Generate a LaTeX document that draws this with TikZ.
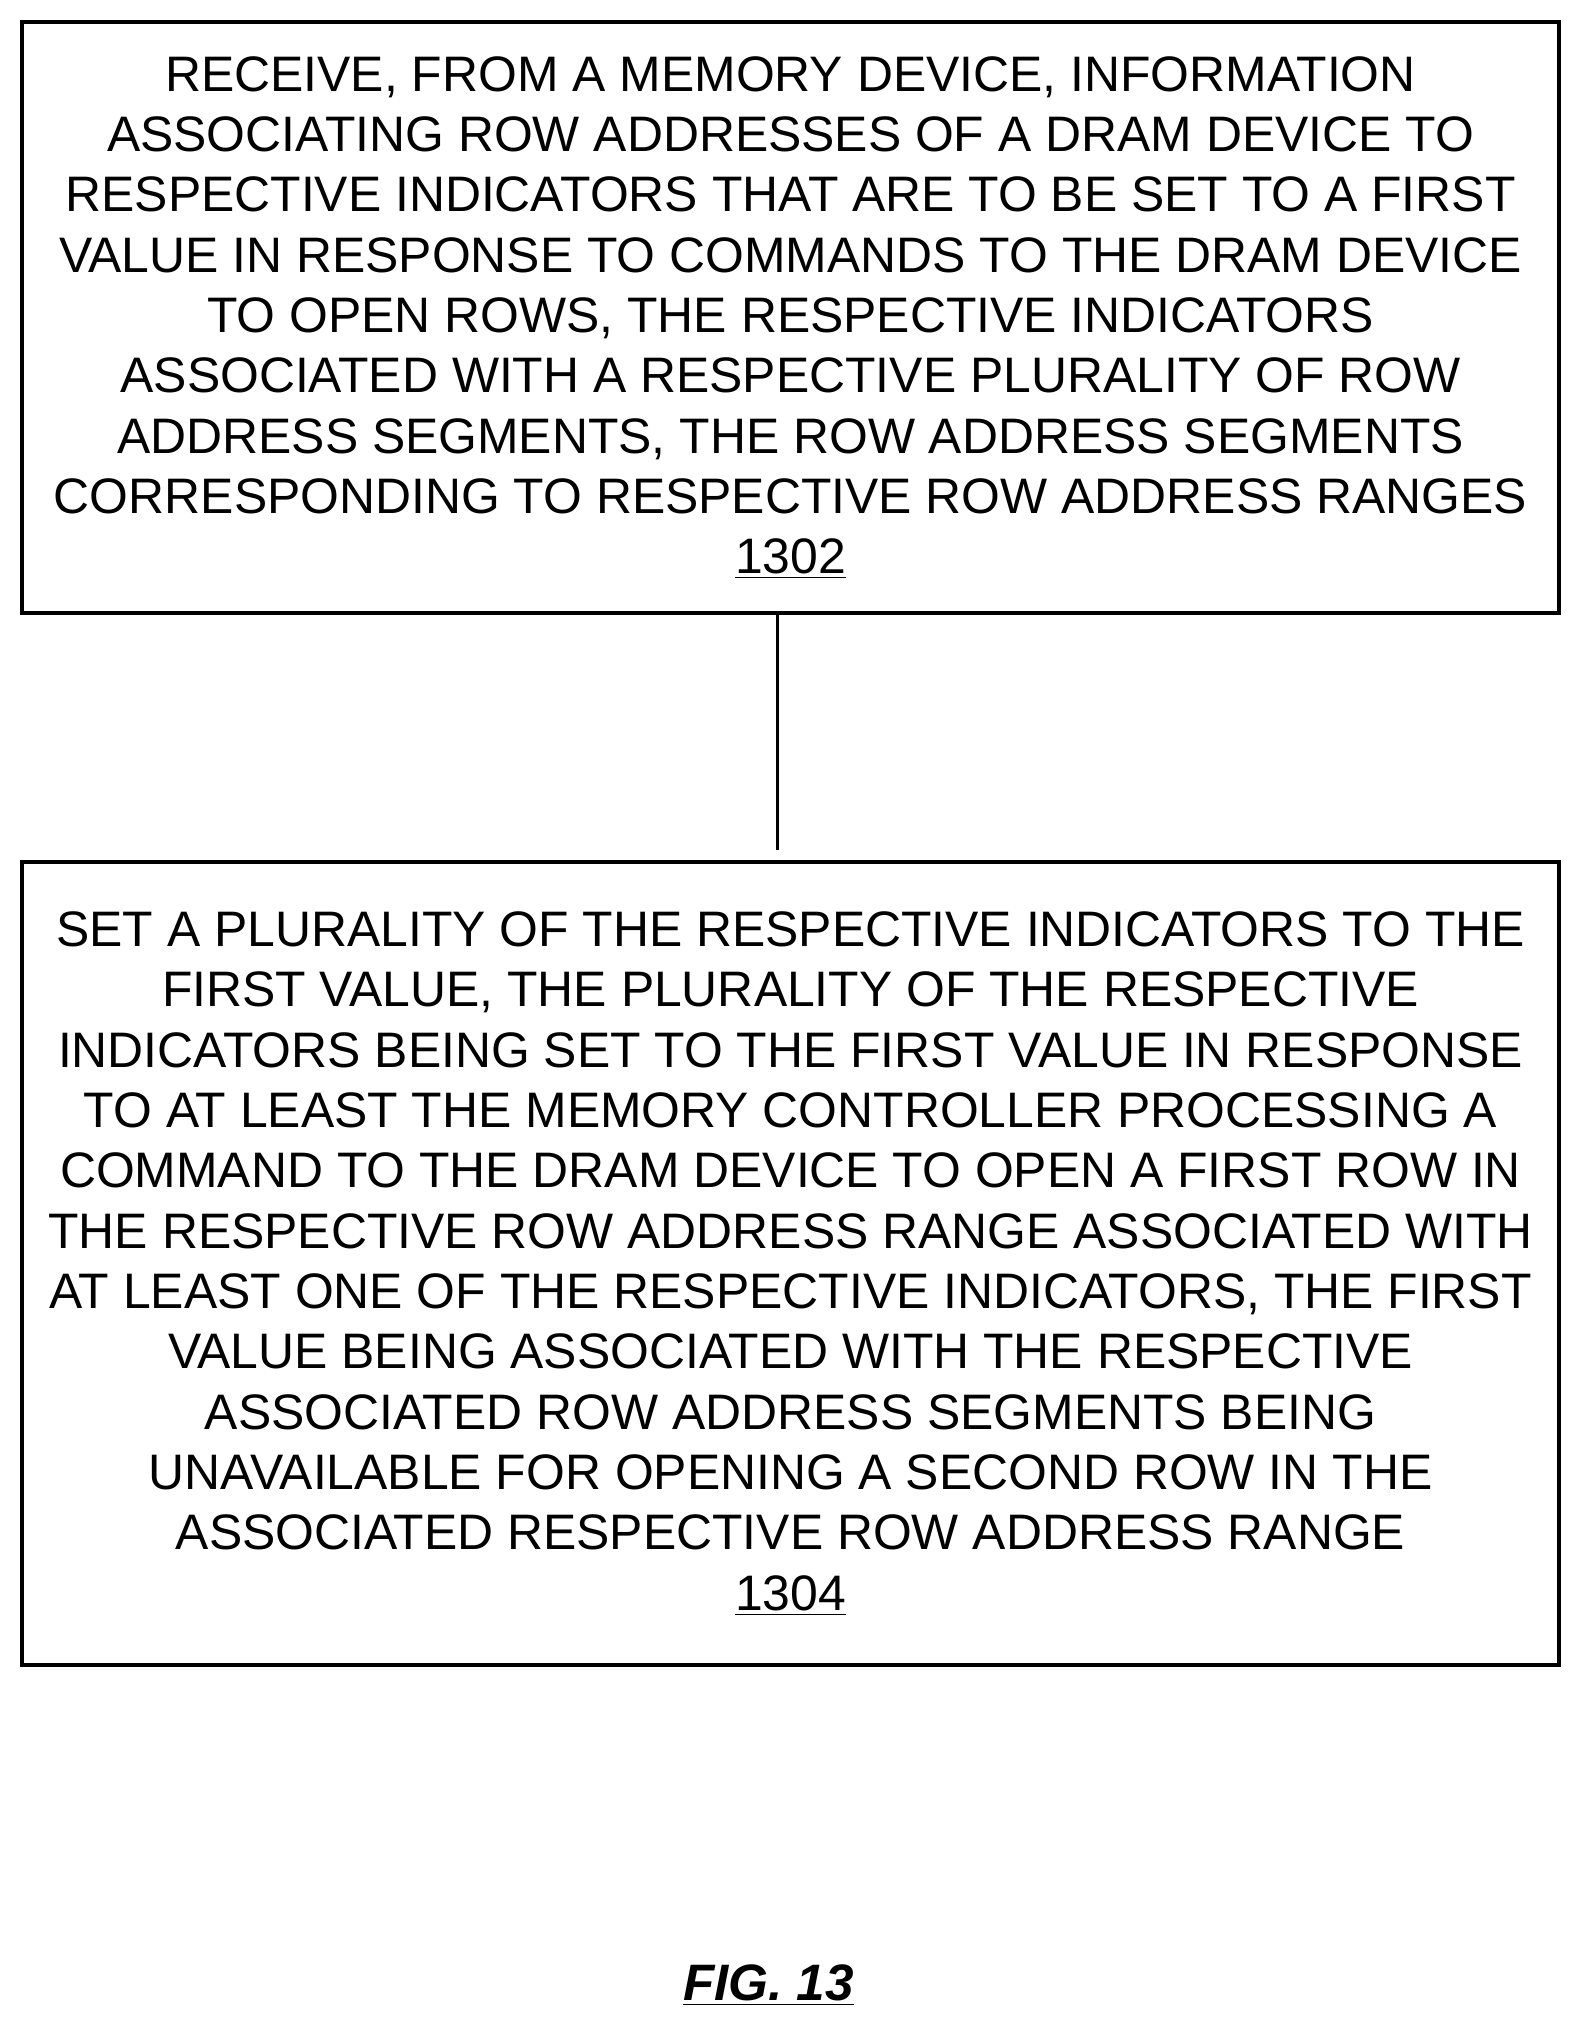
\documentclass[tikz,border=0pt]{standalone}
\usepackage{fontspec}
\setmainfont{Liberation Sans}
\usetikzlibrary{positioning}

\tikzset{stepbox/.style={draw,line width=1.5pt,minimum width=23.72cm,align=center,
    font=\fontsize{21.9}{26.5}\selectfont,inner sep=0pt}}

\begin{document}
\begin{tikzpicture}[x=0.02cm,y=-0.02cm]
  \useasboundingbox (0,0) rectangle (1220,1568);

  \node[stepbox,minimum height=9.12cm] (s1302) at (610,245) {RECEIVE, FROM A MEMORY DEVICE, INFORMATION\\
ASSOCIATING ROW ADDRESSES OF A DRAM DEVICE TO\\
RESPECTIVE INDICATORS THAT ARE TO BE SET TO A FIRST\\
VALUE IN RESPONSE TO COMMANDS TO THE DRAM DEVICE\\
TO OPEN ROWS, THE RESPECTIVE INDICATORS\\
ASSOCIATED WITH A RESPECTIVE PLURALITY OF ROW\\
ADDRESS SEGMENTS, THE ROW ADDRESS SEGMENTS\\
CORRESPONDING TO RESPECTIVE ROW ADDRESS RANGES\\
\underline{1302}};

  \node[stepbox,minimum height=12.4cm] (s1304) at (610,975) {SET A PLURALITY OF THE RESPECTIVE INDICATORS TO THE\\
FIRST VALUE, THE PLURALITY OF THE RESPECTIVE\\
INDICATORS BEING SET TO THE FIRST VALUE IN RESPONSE\\
TO AT LEAST THE MEMORY CONTROLLER PROCESSING A\\
COMMAND TO THE DRAM DEVICE TO OPEN A FIRST ROW IN\\
THE RESPECTIVE ROW ADDRESS RANGE ASSOCIATED WITH\\
AT LEAST ONE OF THE RESPECTIVE INDICATORS, THE FIRST\\
VALUE BEING ASSOCIATED WITH THE RESPECTIVE\\
ASSOCIATED ROW ADDRESS SEGMENTS BEING\\
UNAVAILABLE FOR OPENING A SECOND ROW IN THE\\
ASSOCIATED RESPECTIVE ROW ADDRESS RANGE\\
\underline{1304}};

  \draw[line width=1.5pt] (s1302.south -| 600,0) -- ([yshift=0.16cm]s1304.north -| 600,0);

  \node[font=\fontsize{22.5}{27}\selectfont\bfseries\itshape] (fig) at (593,1532) {\underline{FIG. 13}};
\end{tikzpicture}
\end{document}
